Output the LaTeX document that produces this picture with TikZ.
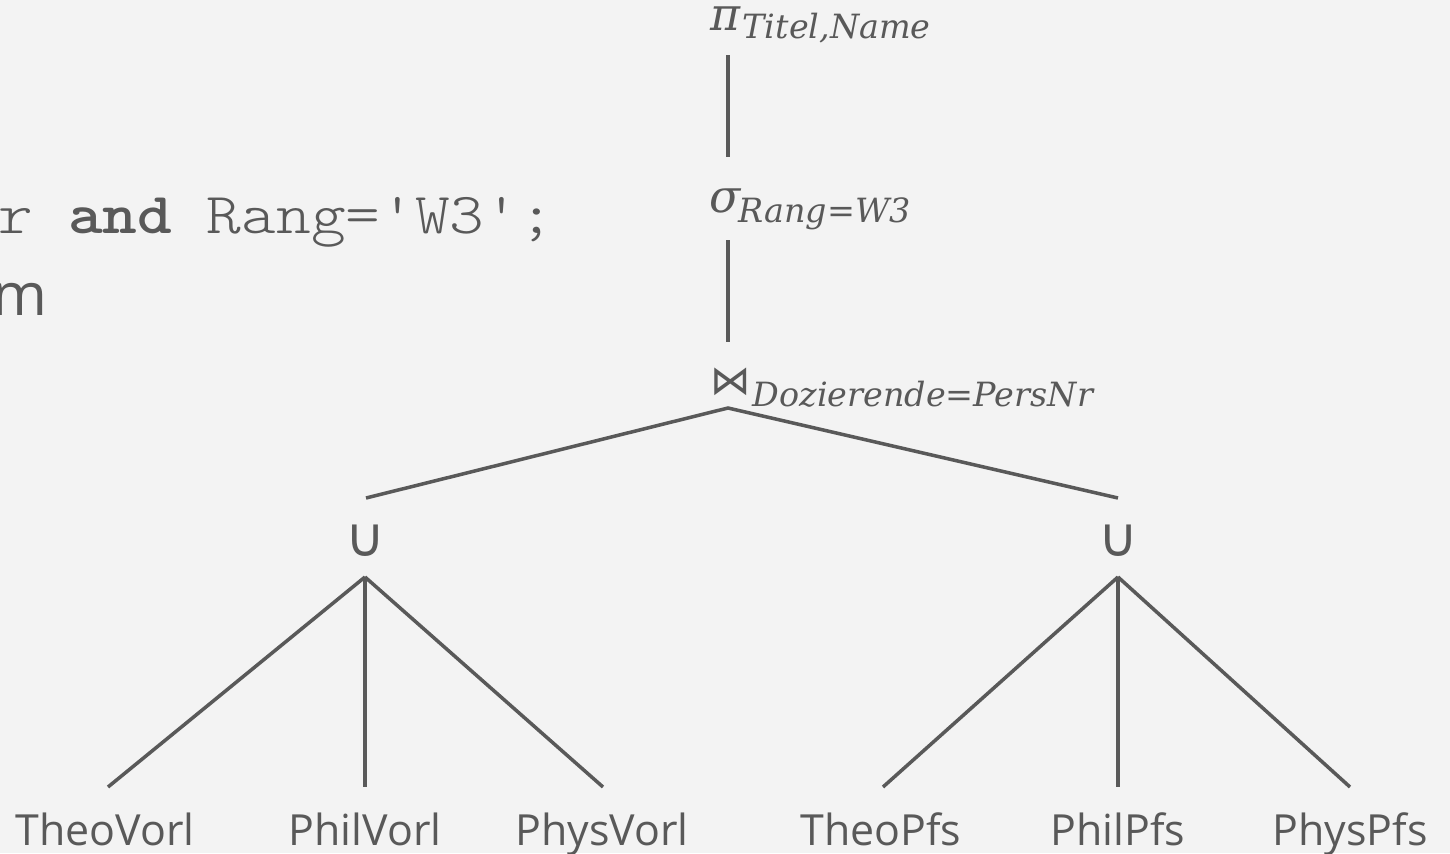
\documentclass[tikz,border=0pt]{standalone}
\usepackage{fontspec}
\setmainfont{Open Sans}
\newfontfamily\codefont{lmmonolt10-regular}[Extension=.otf, BoldFont=lmmonolt10-bold, FakeStretch=1.14]
\newfontfamily\symfont{DejaVu Sans}
\newfontfamily\relfont{DejaVu Serif}
\definecolor{fg}{HTML}{595959}
\definecolor{bg}{HTML}{F3F3F3}
\tikzset{
  base/.style={text=fg, inner sep=0pt},
  opsym/.style={base, anchor=base, font=\relfont\itshape\fontsize{13}{16}\selectfont},
  subtxt/.style={base, anchor=base west, font=\relfont\itshape\fontsize{9.5}{12}\selectfont},
  cupsym/.style={base, anchor=base, font=\symfont\fontsize{15.5}{18}\selectfont},
  leaf/.style={base, anchor=base, font=\fontsize{12.2}{15}\selectfont},
  edge/.style={draw=fg, line width=1pt}
}
\begin{document}
\begin{tikzpicture}[x=0.1mm,y=-0.1mm]
\useasboundingbox (0,0) rectangle (1450,853);
\clip (0,0) rectangle (1450,853);
\fill[bg] (0,0) rectangle (1450,853);

% code fragments (cut at the left border)
\node[base, anchor=base west, font=\codefont\fontsize{16.5}{20}\selectfont] (code) at (-2,233) {r \textbf{and} Rang='W3';};
\node[base, anchor=base east, font=\fontsize{16.8}{20}\selectfont] (mtxt) at (48,315) {m};

% operators
\node[opsym] (pi) at (726,30) {π};
\node[subtxt] (pisub) at (742,38) {Titel,Name};
\node[opsym] (sigma) at (725,212) {σ};
\node[subtxt] (sigmasub) at (738,222) {Rang=W3};
\node[base, anchor=base, font=\symfont\fontsize{11.5}{14}\selectfont] (join) at (731,394) {⋈};
\node[subtxt] (joinsub) at (752,406) {Dozierende=PersNr};

\node[cupsym] (cupL) at (365,556) {∪};
\node[cupsym] (cupR) at (1118,556) {∪};

% leaves
\node[leaf] (theoV) at (105,845) {TheoVorl};
\node[leaf] (philV) at (365,845) {PhilVorl};
\node[leaf] (physV) at (602,845) {PhysVorl};
\node[leaf] (theoP) at (881,845) {TheoPfs};
\node[leaf] (philP) at (1118,845) {PhilPfs};
\node[leaf] (physP) at (1350,845) {PhysPfs};

% named line ends
\coordinate (piB) at (728,55);
\coordinate (sigT) at (728,157);
\coordinate (sigB) at (728,240);
\coordinate (joinT) at (728,342);
\coordinate (joinB) at (728,408);
\coordinate (cupLT) at (366,498);
\coordinate (cupRT) at (1118,498);
\coordinate (cupLB) at (365,577);
\coordinate (cupRB) at (1118,577);
\coordinate (theoVT) at (108,787);
\coordinate (philVT) at (365,787);
\coordinate (physVT) at (603,787);
\coordinate (theoPT) at (883,787);
\coordinate (philPT) at (1118,787);
\coordinate (physPT) at (1350,787);

\draw[edge] (piB) -- (sigT);
\draw[edge] (sigB) -- (joinT);
\draw[edge] (cupLT) -- (joinB) -- (cupRT);
\draw[edge] (cupLB) -- (theoVT);
\draw[edge] (cupLB) -- (philVT);
\draw[edge] (cupLB) -- (physVT);
\draw[edge] (cupRB) -- (theoPT);
\draw[edge] (cupRB) -- (philPT);
\draw[edge] (cupRB) -- (physPT);
\end{tikzpicture}
\end{document}
